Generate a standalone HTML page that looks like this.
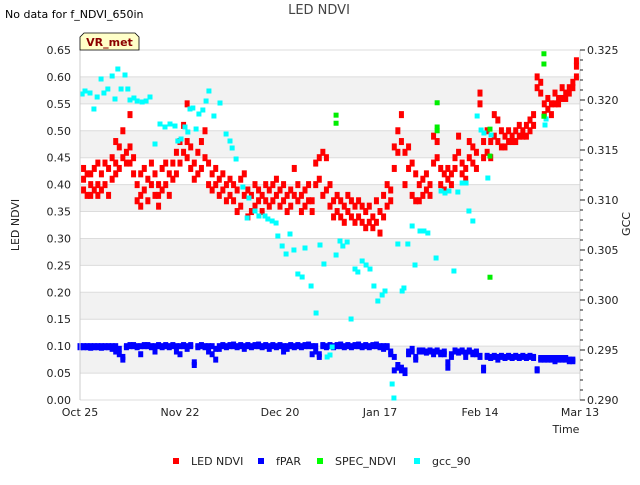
<!DOCTYPE html>
<html><head><meta charset="utf-8"><style>
body{margin:0;background:#fff;font-family:"Liberation Sans","DejaVu Sans",sans-serif;}
svg text{font-family:"DejaVu Sans","Liberation Sans",sans-serif;}
</style></head><body>
<svg id="chart" width="640" height="480" xmlns="http://www.w3.org/2000/svg">
<rect width="640" height="480" fill="#fff"/>
<g id="bands"></g><g id="grid"></g>
<g id="marks"></g>
<g id="axes"></g>
<text x="5" y="18" font-size="11" fill="#000">No data for f_NDVI_650in</text>
<text x="319" y="14" font-size="13" fill="#444" text-anchor="middle">LED NDVI</text>
<g><path d="M80,50 L80,37 L84,33 L135,33 L139,37 L139,50 Z" fill="#ffffc8" stroke="#000" stroke-width="0.8"/><text x="109.5" y="46" font-size="11" font-weight="bold" fill="#8b0000" text-anchor="middle">VR_met</text></g>
<text transform="translate(19,225) rotate(-90)" font-size="11" text-anchor="middle" fill="#222">LED NDVI</text>
<text transform="translate(630,224) rotate(-90)" font-size="11" text-anchor="middle" fill="#222">GCC</text>
<text x="566" y="433" font-size="11" text-anchor="middle" fill="#222">Time</text>
<g id="legend"></g>
</svg>
<script>
const xTickLabels=["Oct 25","Nov 22","Dec 20","Jan 17","Feb 14","Mar 13"];
const xTickDays=[0,28,56,84,112,140];
const yTicks=[0,0.05,0.1,0.15,0.2,0.25,0.3,0.35,0.4,0.45,0.5,0.55,0.6,0.65];
const y2Ticks=[0.29,0.295,0.3,0.305,0.31,0.315,0.32,0.325];
const ledVals=[[],[.43,.39,.41],[.42,.38],[.40,.42,.38],[.43,.39],[.40,.44,.38],[.42,.39],[.44,.40],[.43,.38],[.45,.41],[.48,.44,.42],[.47,.43],[.50,.45],[.46,.44],[.53,.47,.44],[.45,.42],[.40,.37],[.42,.38,.36],[.43,.39],[.41,.37],[.44,.40],[.42,.38],[.40,.36,.38],[.43,.39],[.44,.40],[.42,.38],[.44,.41],[.46,.42],[.48,.44],[.51,.46],[.55,.48,.45],[.47,.43],[.44,.41],[.46,.42],[.48,.43],[.50,.45],[.44,.40],[.42,.39],[.43,.40],[.41,.38],[.42,.39],[.40,.37],[.41,.38],[.40,.37],[.39,.35],[.41,.36],[.42,.38],[.39,.34],[.38,.35],[.40,.36],[.39,.37],[.38,.35],[.40,.37],[.39,.36],[.40,.37],[.41,.38],[.39,.36],[.40,.37],[.38,.35],[.39,.36],[.43,.38],[.40,.37],[.38,.35],[.39,.36],[.40,.37],[.37,.35],[.44,.40],[.45,.41],[.46,.38],[.45,.39],[.40,.36],[.37,.34],[.38,.35],[.37,.34],[.36,.33],[.38,.35],[.37,.34],[.36,.33],[.37,.34],[.36,.33],[.35,.32],[.36,.33],[.34,.32],[.37,.33],[.35,.31],[.38,.34],[.40,.36],[.39,.37],[.47,.43],[.50,.46],[.53,.48],[.46,.40],[.47,.43],[.44,.38],[.42,.37],[.40,.37],[.41,.38],[.42,.39],[.40,.38],[.49,.44],[.48,.45],[.43,.40],[.42,.39],[.43,.41],[.42,.40],[.45,.43],[.49,.46],[.44,.42],[.43,.41],[.48,.45],[.47,.44],[.46,.43],[.57,.55],[.48,.45],[.50,.46],[.48,.45],[.53,.49],[.52,.48],[.50,.47],[.49,.47],[.50,.48],[.49,.48],[.50,.48],[.51,.49],[.50,.49],[.51,.49],[.52,.50],[.53,.51],[.60,.58],[.59,.57],[.55,.53],[.56,.54],[.55,.53],[.57,.55],[.56,.55],[.58,.56],[.57,.56],[.58,.57],[.59,.58],[.62,.60,.63]];
const fparVals=[[.10,.098],[.10,.098],[.10,.098],[.10,.097],[.10,.098],[.10,.098],[.10,.097],[.10,.098],[.10,.098],[.095,.10],[.09,.10],[.085,.095],[.075,.08],[.10,.098],[.10,.102],[.10,.102],[.10,.098],[.085,.10],[.10,.102],[.10,.102],[.10,.098],[.09,.10],[.10,.102],[.10,.098],[.10,.102],[.10,.098],[.10,.102],[.09,.10],[.085,.10],[.10,.102],[.095,.10],[.10,.102],[.065,.07],[.10,.098],[.10,.102],[.10,.098],[.09,.10],[.085,.10],[.075,.095],[.095,.10],[.10,.102],[.10,.098],[.10,.102],[.10,.103],[.10,.098],[.10,.102],[.095,.10],[.10,.102],[.10,.098],[.10,.102],[.10,.103],[.10,.098],[.10,.102],[.095,.10],[.10,.102],[.10,.098],[.10,.102],[.09,.10],[.095,.10],[.10,.102],[.10,.098],[.10,.102],[.10,.098],[.10,.102],[.10,.103],[.085,.10],[.09,.10],[.08,.085],[.10,.102],[.10,.098],[.10,.102],[.10,.098],[.10,.102],[.10,.103],[.10,.098],[.10,.102],[.10,.098],[.10,.102],[.10,.103],[.10,.098],[.10,.102],[.10,.098],[.10,.102],[.10,.103],[.10,.098],[.095,.10],[.10,.098],[.09,.085],[.055,.08],[.06,.065],[.06,.055],[.05,.055],[.085,.09],[.095,.09],[.075,.08],[.09,.092],[.09,.092],[.09,.088],[.09,.092],[.085,.09],[.09,.092],[.085,.088],[.085,.09],[.06,.07],[.08,.085],[.09,.092],[.09,.088],[.09,.092],[.08,.088],[.09,.092],[.085,.088],[.085,.09],[.08,.082],[.06,.055],[.08,.082],[.08,.078],[.08,.082],[.075,.08],[.08,.082],[.08,.078],[.08,.082],[.08,.078],[.08,.082],[.08,.078],[.08,.082],[.08,.078],[.08,.082],[.08,.078],[.055,.057],[.078,.075],[.078,.075],[.078,.075],[.078,.075],[.078,.072],[.078,.075],[.078,.075],[.078,.075],[.075,.072],[.075,.072]];
const gccDays=[0.6,1.4,2.8,3.9,4.8,5.9,6.7,7.8,9.0,9.8,10.6,11.5,12.6,13.4,14.0,15.1,16.0,17.4,18.5,19.6,21.0,22.4,23.8,25.2,26.6,27.4,28.3,29.4,30.2,30.8,31.6,32.5,33.3,34.4,35.3,36.1,37.5,39.2,40.9,42.0,42.6,43.7,45.6,46.8,47.3,49.0,50.1,51.8,52.6,53.8,54.9,55.4,56.6,57.7,58.8,59.9,61.0,62.2,63.0,64.7,66.1,67.2,68.3,69.2,70.0,70.6,71.7,72.8,73.6,74.8,75.9,77.0,77.8,79.0,80.1,81.2,82.3,83.4,84.6,85.4,87.4,87.9,89.0,90.2,90.7,91.8,93.0,93.8,95.2,96.3,97.4,99.7,101.1,102.2,103.3,104.7,105.8,107.0,108.1,108.9,110.0,111.2,112.3,113.1,114.2,115.1,130.2,130.5];
const gccVals=[.3206,.3209,.3207,.3191,.3203,.3221,.3207,.3211,.3224,.3201,.3231,.3211,.3225,.3211,.3200,.3202,.3199,.3198,.3199,.3203,.3156,.3176,.3173,.3176,.3174,.3159,.3161,.3173,.3168,.3191,.3192,.3171,.3186,.3190,.3199,.3209,.3184,.3197,.3166,.3159,.3152,.3141,.3113,.3082,.3102,.3089,.3084,.3084,.3081,.3079,.3077,.3064,.3054,.3046,.3066,.3050,.3026,.3023,.3052,.3014,.2987,.3055,.3036,.2943,.2945,.2953,.3045,.3059,.3054,.3058,.2981,.3031,.3028,.3039,.3035,.3031,.3014,.2999,.3005,.3009,.2916,.2902,.3056,.3009,.3012,.3056,.3074,.3035,.3069,.3069,.3067,.3042,.3109,.3107,.3109,.3029,.3108,.3117,.3117,.3089,.3079,.3184,.3170,.3167,.3122,.3165,.3175,.3181];
const specDays=[71.7,71.7,100,100,100,114.8,114.8,114.8,129.9,129.9,129.9];
const specVals=[.529,.514,.552,.507,.500,.503,.453,.228,.643,.624,.527];
const X0=80,X1=580,Y0=400,Y1=50;
const xS=d=>X0+(d/140)*(X1-X0);
const yS=v=>Y0-(v/0.65)*(Y0-Y1);
const y2S=v=>Y0-((v-0.29)/0.035)*(Y0-Y1);
const NS="http://www.w3.org/2000/svg";
function mk(t,a,p){const e=document.createElementNS(NS,t);for(const k in a)e.setAttribute(k,a[k]);p.appendChild(e);return e;}
const bands=document.getElementById('bands'),grid=document.getElementById('grid'),marks=document.getElementById('marks'),axes=document.getElementById('axes');
for(let i=0;i<yTicks.length-1;i++){if(i%2===1){const r=mk('rect',{x:X0,y:yS(yTicks[i+1]),width:X1-X0,height:yS(yTicks[i])-yS(yTicks[i+1]),fill:'#f2f2f2'},bands);

}}
yTicks.forEach(v=>{const l=mk('line',{x1:X0,x2:X1,y1:yS(v),y2:yS(v),stroke:'#dcdcdc','stroke-width':1},grid);


const t=mk('text',{x:X0-9,y:yS(v)+4,'font-size':11,'text-anchor':'end',fill:'#222'},axes);t.textContent=v.toFixed(2);

});
mk('line',{x1:X0,x2:X0,y1:Y1,y2:Y0,stroke:'#ccc'},axes);
mk('line',{x1:X1,x2:X1,y1:Y1,y2:Y0,stroke:'#ccc'},axes);
xTickDays.forEach((d,i)=>{const t=mk('text',{x:xS(d),y:416,'font-size':11,'text-anchor':'middle',fill:'#222'},axes);t.textContent=xTickLabels[i];

});
for(let k=0;k<=35;k++){const v=0.29+k*0.001;const y=y2S(v);const major=k%5===0;mk('line',{x1:X1,x2:X1+(major?5:3),y1:y,y2:y,stroke:'#222'},axes);
if(major){const t=mk('text',{x:X1+7,y:y+4,'font-size':11,fill:'#222'},axes);t.textContent=v.toFixed(3);

}}
function pt(x,y,c,w,h,name){const r=mk('rect',{x:x-w/2,y:y-h/2,width:w,height:h,fill:c},marks);

}
fparVals.forEach((vs,d)=>vs.forEach(v=>pt(xS(d),yS(v),'#0000ff',5,6,'fpar-point')));
ledVals.forEach((vs,d)=>vs.forEach(v=>pt(xS(d),yS(v),'#ff0000',5,7,'led-ndvi-point')));
gccDays.forEach((d,i)=>pt(xS(d),y2S(gccVals[i]),'#00ffff',5,5,'gcc-90-point'));
specDays.forEach((d,i)=>pt(xS(d),yS(specVals[i]),'#00ee00',5,5,'spec-ndvi-point'));
const lg=document.getElementById('legend');
const legNames=["LED NDVI","fPAR","SPEC_NDVI","gcc_90"],legColors=["#ff0000","#0000ff","#00ff00","#00ffff"],legX=[176,261,320,417];
legNames.forEach((n,i)=>{const g=mk('g',{},lg);


mk('rect',{x:legX[i]-3,y:458,width:6,height:6,fill:legColors[i]},g);const t=mk('text',{x:legX[i]+15,y:465,'font-size':11,fill:'#222'},g);t.textContent=n;});
</script>
</body></html>
